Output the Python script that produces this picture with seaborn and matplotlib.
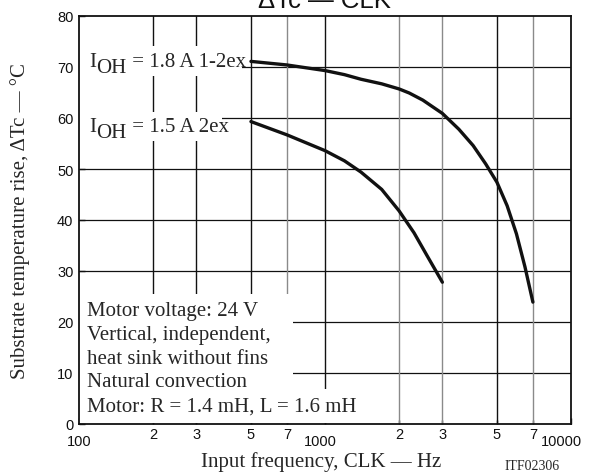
import numpy as np
import pandas as pd
import matplotlib
matplotlib.use("Agg")
import matplotlib.pyplot as plt
from matplotlib.patches import Rectangle
from matplotlib.ticker import FixedLocator, FixedFormatter
from matplotlib.transforms import ScaledTranslation
import seaborn as sns

# ---------------- data ----------------
freq_18 = [500, 700, 1000, 1200, 1400, 1700, 2000, 2200, 2500, 2700, 3000, 3500,
           4000, 4500, 5000, 5500, 6000, 6500, 7000]
temp_18 = [71.1, 70.4, 69.3, 68.5, 67.6, 66.7, 65.7, 64.9, 63.5, 62.4, 60.9, 57.8,
           54.6, 51.0, 47.4, 42.8, 37.3, 30.8, 23.9]

freq_15 = [500, 700, 1000, 1200, 1400, 1700, 2000, 2300, 2600, 3000]
temp_15 = [59.3, 56.7, 53.6, 51.6, 49.4, 46.0, 41.8, 37.5, 33.0, 27.8]

series_names = ["IOH = 1.8 A 1-2ex", "IOH = 1.5 A 2ex"]
series_label_parts = [("I", "OH", " = 1.8 A 1-2ex"), ("I", "OH", " = 1.5 A 2ex")]

x_major = [100, 1000, 10000]
x_major_labels = ["100", "1000", "10000"]
x_minor = [200, 300, 500, 700, 2000, 3000, 5000, 7000]
x_minor_labels = ["2", "3", "5", "7", "2", "3", "5", "7"]
x_minor_dark = [True, True, True, False, False, False, True, False]
y_ticks = [0, 10, 20, 30, 40, 50, 60, 70, 80]

notes = ["Motor voltage: 24 V",
         "Vertical, independent,",
         "heat sink without fins",
         "Natural convection",
         "Motor: R = 1.4 mH, L = 1.6 mH"]

title = "\u0394Tc \u2014 CLK"
xlabel = "Input frequency, CLK \u2014 Hz"
ylabel = "Substrate temperature rise, \u0394Tc \u2014 \u00b0C"
code_label = "ITF02306"

# ---------------- style ----------------
sns.set_style("ticks")
plt.rcParams["font.family"] = ["Liberation Sans", "DejaVu Sans"]
SERIF = ["Liberation Serif", "DejaVu Serif"]
FS = 15

df = pd.concat([
    pd.DataFrame({"freq": freq_18, "temp": temp_18, "series": series_names[0]}),
    pd.DataFrame({"freq": freq_15, "temp": temp_15, "series": series_names[1]}),
])

fig = plt.figure(figsize=(5.94, 4.77), dpi=100)
ax = fig.add_axes([79 / 594, 52 / 477, 492 / 594, 408 / 477])

sns.lineplot(data=df, x="freq", y="temp", hue="series",
             palette=["#111111", "#111111"], linewidth=2.4,
             legend=False, ax=ax, zorder=3, sort=False)

ax.set_xscale("log")
ax.set_xlim(x_major[0], x_major[-1])
ax.set_ylim(y_ticks[0], y_ticks[-1])

# grid lines (drawn manually so that note boxes can mask them)
for yv in y_ticks[1:-1]:
    ax.axhline(yv, color="#111111", lw=0.9, zorder=1)
for xv, dark in zip(x_minor + [x_major[1]], x_minor_dark + [True]):
    ax.axvline(xv, color="#111111" if dark else "#8a8a8a", lw=1.0, zorder=1)

# white masks behind text blocks
for (x0, y0, w, h) in [(0.0, 0.853, 0.331, 0.073),
                       (0.0, 0.694, 0.291, 0.071),
                       (0.0, 0.086, 0.435, 0.233),
                       (0.0, 0.003, 0.535, 0.083)]:
    ax.add_patch(Rectangle((x0, y0), w, h, transform=ax.transAxes,
                           facecolor="white", edgecolor="none", zorder=1.5))

# ticks
ax.xaxis.set_major_locator(FixedLocator(x_major))
ax.xaxis.set_major_formatter(FixedFormatter(x_major_labels))
ax.xaxis.set_minor_locator(FixedLocator(x_minor))
ax.xaxis.set_minor_formatter(FixedFormatter(x_minor_labels))
ax.set_yticks(y_ticks)
ax.set_yticklabels([str(v) for v in y_ticks])
ax.tick_params(axis="x", which="major", direction="in", length=4, width=1,
               pad=7, labelsize=10.5, colors="#111111")
ax.tick_params(axis="x", which="minor", direction="in", length=3, width=1,
               pad=2, labelsize=10.5, colors="#111111")
ax.tick_params(axis="y", which="major", direction="in", length=4, width=1,
               pad=4, labelsize=10.5, colors="#111111")
ax.tick_params(axis="y", which="minor", length=0)

# small leftward shift of the two right major labels (as in reference)
fig.canvas.draw()
for lab, dx in zip(ax.get_xticklabels(), [0, -5, -10]):
    lab.set_transform(lab.get_transform() + ScaledTranslation(dx / 100, 0, fig.dpi_scale_trans))

for s in ax.spines.values():
    s.set_visible(True)
    s.set_linewidth(1.3)
    s.set_color("#111111")
    s.set_zorder(4)


def series_label(xf, yf, parts):
    main, sub, rest = parts
    t1 = ax.text(xf, yf, main, transform=ax.transAxes, fontsize=FS,
                 family=SERIF, ha="left", va="baseline", zorder=5)
    t2 = ax.annotate(sub, xy=(1, 0), xycoords=t1, xytext=(0.3, -4),
                     textcoords="offset points", fontsize=FS, family=SERIF,
                     ha="left", va="bottom", zorder=5)
    ax.annotate(rest, xy=(1, 0), xycoords=(t2, t1), fontsize=FS, family=SERIF,
                ha="left", va="bottom", zorder=5)


series_label(0.0203, 0.877, series_label_parts[0])
series_label(0.0203, 0.718, series_label_parts[1])

# notes
for i, line in enumerate(notes):
    ax.text(0.0163, 0.267 - i * 0.0583, line, transform=ax.transAxes,
            fontsize=FS, family=SERIF, ha="left", va="baseline", zorder=5)

# labels
ax.set_xlabel(xlabel, fontsize=FS, family=SERIF)
ax.xaxis.set_label_coords(0.492, -0.066)
ax.set_ylabel(ylabel, fontsize=FS, family=SERIF)
ax.yaxis.set_label_coords(-0.10, 0.5)

fig.text(0.547, 1 - 7.5 / 477, title, ha="center", va="baseline",
         fontsize=18.5, color="#111111")
fig.text(505 / 594, 1 - 470 / 477, code_label, ha="left", va="baseline",
         fontsize=10, family=SERIF)

fig.savefig("out.png", dpi=100)
